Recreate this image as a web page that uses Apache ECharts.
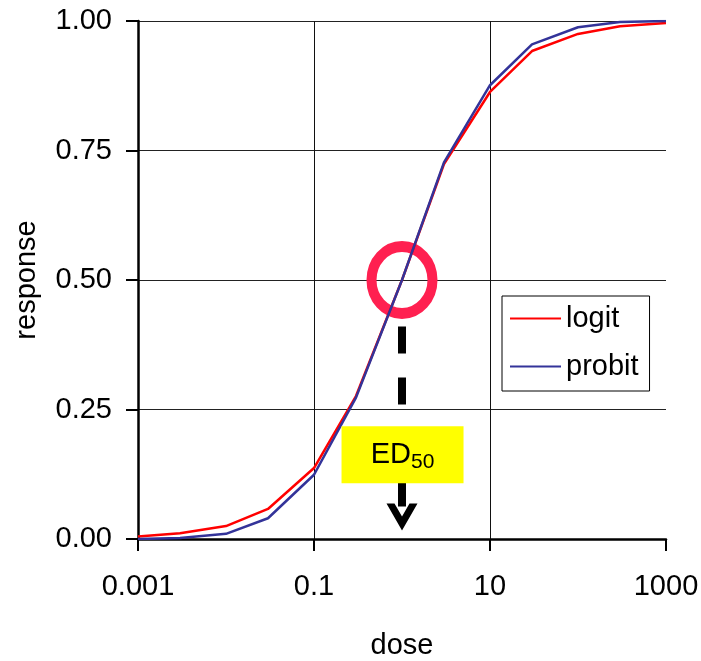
<!DOCTYPE html>
<html>
<head>
<meta charset="utf-8">
<script src="https://cdn.jsdelivr.net/npm/echarts@6.0.0/dist/echarts.min.js"></script>
<style>
    html, body { margin: 0; padding: 0; background: #fff; }
    #doseChart { width: 701px; height: 661px; }
</style>
</head>
<body>
<div id="doseChart"></div>
<script>
var doses = [0.001, 0.003, 0.01, 0.03, 0.1, 0.3, 1, 3, 10, 30, 100, 300, 1000];
var logitResp = [0.005, 0.011, 0.025, 0.058, 0.137, 0.276, 0.500, 0.724, 0.863, 0.942, 0.975, 0.990, 0.996];
var probitResp = [0.000, 0.002, 0.010, 0.040, 0.124, 0.273, 0.500, 0.727, 0.876, 0.955, 0.988, 0.998, 1.000];
var yTicks = [0, 0.25, 0.5, 0.75, 1];
var ed50 = 1;
// annotation heights in response units: dashed arrow from/to, arrow head, label box
var arrowFrom = 0.41;
var arrowTo = 0.06;
var arrowHead = 0.0425;
var labelAt = 0.1625;

var FONT = "Liberation Sans";

function toPoints(resp) {
    return doses.map(function (d, i) { return [Math.log10(d), resp[i]]; });
}

var edX = Math.log10(ed50);

var chart = echarts.init(document.getElementById("doseChart"));
chart.setOption({
    animation: false,
    backgroundColor: "#fff",
    textStyle: { fontFamily: FONT, color: "#000" },
    grid: { left: 138, right: 35, top: 21, bottom: 122, outerBoundsMode: "none", containLabel: false },
    legend: {
        data: ["logit", "probit"],
        orient: "vertical",
        left: 502,
        top: 296,
        padding: [8, 11, 10, 8],
        itemGap: 19,
        itemWidth: 51,
        itemHeight: 2,
        icon: "rect",
        backgroundColor: "#fff",
        borderColor: "#000",
        borderWidth: 1,
        textStyle: { fontFamily: FONT, fontSize: 29, color: "#000" }
    },
    xAxis: {
        type: "value",
        min: -3,
        max: 3,
        interval: 2,
        name: "dose",
        nameLocation: "middle",
        nameGap: 92,
        nameTextStyle: { fontFamily: FONT, fontSize: 29, color: "#000" },
        axisLine: { onZero: false, lineStyle: { color: "#000", width: 2.5 } },
        axisTick: { show: true, length: 12, lineStyle: { color: "#000", width: 2 } },
        axisLabel: {
            margin: 33,
            fontFamily: FONT,
            fontSize: 29,
            color: "#000",
            formatter: function (v) { return String(Number(Math.pow(10, v).toPrecision(3))); }
        },
        splitLine: { show: true, showMaxLine: false, lineStyle: { color: "#111", width: 1 } }
    },
    yAxis: {
        type: "value",
        min: yTicks[0],
        max: yTicks[yTicks.length - 1],
        interval: 0.25,
        name: "response",
        nameLocation: "middle",
        nameGap: 97,
        nameTextStyle: { fontFamily: FONT, fontSize: 29, color: "#000" },
        axisLine: { show: true, onZero: false, lineStyle: { color: "#000", width: 2.5 } },
        axisTick: { show: true, length: 12, lineStyle: { color: "#000", width: 2 } },
        axisLabel: {
            margin: 26,
            fontFamily: FONT,
            fontSize: 29,
            color: "#000",
            formatter: function (v) { return v.toFixed(2); }
        },
        splitLine: { show: true, lineStyle: { color: "#222", width: 1 } }
    },
    series: [
        {
            name: "ED50 mark",
            type: "scatter",
            silent: true,
            data: [[edX, 0.5]],
            symbol: "circle",
            symbolSize: [61, 67],
            itemStyle: { color: "rgba(0,0,0,0)", borderColor: "#ff2050", borderWidth: 10.5, opacity: 1 },
            z: 1
        },
        {
            name: "logit",
            type: "line",
            data: toPoints(logitResp),
            symbol: "none",
            lineStyle: { color: "#ff0000", width: 2.5 },
            itemStyle: { color: "#ff0000" },
            z: 2
        },
        {
            name: "probit",
            type: "line",
            data: toPoints(probitResp),
            symbol: "none",
            lineStyle: { color: "#333399", width: 2.5 },
            itemStyle: { color: "#333399" },
            z: 2
        },
        {
            name: "arrow",
            type: "line",
            silent: true,
            data: [[edX, arrowFrom], [edX, arrowTo]],
            symbol: "none",
            lineStyle: { color: "#000", width: 8, type: [27, 24], cap: "butt" },
            z: 3
        },
        {
            name: "arrow head",
            type: "scatter",
            silent: true,
            data: [[edX, arrowHead]],
            symbol: "path://M0,0 L8,0 L15.5,13 L23,0 L31,0 L15.5,27 Z",
            symbolSize: [31, 27],
            symbolKeepAspect: false,
            itemStyle: { color: "#000", opacity: 1 },
            z: 3
        },
        {
            name: "ED50 label",
            type: "scatter",
            silent: true,
            data: [[edX + 0.006, labelAt]],
            symbol: "rect",
            symbolSize: [122, 57],
            itemStyle: { color: "#ffff00", opacity: 1 },
            label: {
                show: true,
                position: "inside",
                formatter: "{a|ED}{b|50}",
                rich: {
                    a: { fontFamily: FONT, fontSize: 29, color: "#000", lineHeight: 36 },
                    b: { fontFamily: FONT, fontSize: 21, color: "#000", lineHeight: 36, padding: [14, 0, 0, 0] }
                }
            },
            z: 4
        }
    ]
});
</script>
</body>
</html>
